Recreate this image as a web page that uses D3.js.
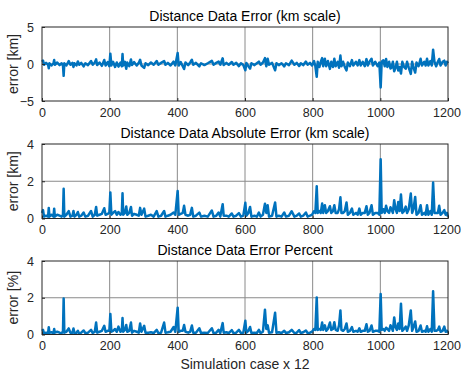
<!DOCTYPE html>
<html>
<head>
<meta charset="utf-8">
<script src="https://cdn.jsdelivr.net/npm/d3@7"></script>
<style>
    body { margin: 0; background: #fff; }
    svg text { font-family: "Liberation Sans", Arial, Helvetica, sans-serif; fill: #262626; }
</style>
</head>
<body>
<div id="chart-area"></div>
<script>
// Simulation case index (x) shared by the three panels
const caseIdx = [0, 3, 6, 12, 18, 20, 22, 28, 34, 36, 38, 45, 52, 58, 62, 64, 66, 72, 79, 84, 90, 93, 96, 102, 106, 110, 116, 123, 128, 136, 145, 150, 156, 160, 163, 170, 177, 184, 188, 194, 199, 202, 205, 210, 216, 221, 226, 232, 236, 238, 240, 245, 249, 252, 258, 263, 266, 272, 280, 286, 290, 294, 302, 306, 314, 322, 330, 339, 344, 352, 361, 365, 372, 380, 389, 394, 401, 404, 410, 416, 420, 424, 432, 438, 443, 447, 455, 465, 470, 480, 490, 502, 507, 515, 522, 527, 534, 537, 545, 552, 561, 566, 574, 582, 588, 595, 601, 604, 610, 615, 619, 628, 635, 641, 646, 653, 659, 663, 667, 671, 680, 689, 693, 700, 708, 716, 721, 730, 738, 746, 753, 760, 765, 772, 780, 785, 792, 798, 804, 808, 812, 815, 820, 824, 828, 831, 836, 840, 845, 851, 855, 860, 864, 868, 874, 878, 882, 885, 890, 895, 900, 904, 910, 916, 920, 928, 933, 938, 942, 948, 954, 959, 963, 968, 974, 978, 985, 992, 997, 1001, 1004, 1009, 1013, 1017, 1021, 1026, 1030, 1033, 1037, 1041, 1045, 1049, 1053, 1057, 1061, 1065, 1070, 1075, 1079, 1084, 1090, 1094, 1098, 1103, 1107, 1113, 1119, 1123, 1130, 1134, 1138, 1142, 1148, 1152, 1156, 1160, 1165, 1170, 1174, 1178, 1184, 1189, 1193, 1197, 1200];

// Distance data error [km]
const distError = [0.3, 0.45, -0.1, 0.15, -0.1, -0.57, 0.1, -0.2, 0.1, 0.53, -0.1, 0.2, -0.15, 0.1, -0.2, -1.6, 0.1, -0.2, 0.4, -0.1, 0.15, -0.4, 0.1, -0.2, 0.35, -0.1, 0.15, -0.32, 0.1, -0.15, 0.4, -0.1, 0.2, 0.62, -0.15, 0.2, -0.25, 0.55, -0.2, 0.25, -0.3, 1.4, -0.2, 0.3, -0.4, 0.2, -0.35, 0.2, -0.3, 1.35, -0.2, 0.3, -0.65, 0.2, -0.3, 0.62, -0.15, 0.25, -0.2, 0.15, 0.57, -0.2, -0.53, 0.1, -0.15, 0.2, -0.1, 0.4, -0.1, 0.15, 0.4, -0.1, 0.15, -0.2, 0.32, -0.2, 1.48, -0.2, 0.25, -0.3, -0.68, 0.2, -0.15, 0.2, 0.57, -0.1, 0.15, -0.32, 0.1, -0.15, 0.1, 0.43, -0.1, 0.15, 0.32, -0.1, 0.77, -0.15, 0.15, -0.1, 0.27, -0.1, 0.15, -0.29, 0.1, -0.15, -0.84, 0.15, -0.3, -0.62, 0.1, -0.15, 0.1, 0.32, -0.1, 0.2, 0.79, -0.3, 0.71, -0.1, 0.15, -0.86, 0.1, -0.15, 0.1, -0.32, 0.1, -0.15, 0.45, -0.1, 0.15, -0.27, 0.1, -0.15, 0.32, -0.1, 0.15, -0.2, 0.39, -0.3, -1.73, 0.3, -0.4, 0.3, 0.8, -0.3, 0.71, -0.3, 0.4, -0.66, 0.3, -0.4, 0.71, -0.3, 0.3, -0.5, 1.14, -0.3, 0.3, -0.4, -0.86, 0.2, -0.3, 0.53, -0.2, 0.3, -0.2, 0.53, -0.2, 0.3, -0.3, 0.66, -0.2, 0.3, 0.71, -0.2, 0.3, -0.3, 0.2, -3.18, 0.3, 0.5, -0.3, 0.68, -0.4, 0.3, -0.6, -0.5, 0.3, -0.98, -0.5, 0.3, -0.89, -0.4, -1.29, 0.3, -0.4, -0.64, 0.3, -0.5, -1.34, 0.3, -0.5, -1.16, 0.2, -0.3, 0.71, -0.2, 0.3, -0.2, 0.71, -0.2, 0.4, -0.2, 1.93, 0.3, -0.3, 0.3, 0.68, -0.2, 0.3, 0.45, -0.2, 0.3, 0.1];

// Distance data absolute error [km]
const absError = [0.3, 0.45, 0.1, 0.15, 0.1, 0.57, 0.1, 0.2, 0.1, 0.53, 0.1, 0.2, 0.15, 0.1, 0.2, 1.6, 0.1, 0.2, 0.4, 0.1, 0.15, 0.4, 0.1, 0.2, 0.35, 0.1, 0.15, 0.32, 0.1, 0.15, 0.4, 0.1, 0.2, 0.62, 0.15, 0.2, 0.25, 0.55, 0.2, 0.25, 0.3, 1.4, 0.2, 0.3, 0.4, 0.2, 0.35, 0.2, 0.3, 1.35, 0.2, 0.3, 0.65, 0.2, 0.3, 0.62, 0.15, 0.25, 0.2, 0.15, 0.57, 0.2, 0.53, 0.1, 0.15, 0.2, 0.1, 0.4, 0.1, 0.15, 0.4, 0.1, 0.15, 0.2, 0.32, 0.2, 1.48, 0.2, 0.25, 0.3, 0.68, 0.2, 0.15, 0.2, 0.57, 0.1, 0.15, 0.32, 0.1, 0.15, 0.1, 0.43, 0.1, 0.15, 0.32, 0.1, 0.77, 0.15, 0.15, 0.1, 0.27, 0.1, 0.15, 0.29, 0.1, 0.15, 0.84, 0.15, 0.3, 0.62, 0.1, 0.15, 0.1, 0.32, 0.1, 0.2, 0.79, 0.3, 0.71, 0.1, 0.15, 0.86, 0.1, 0.15, 0.1, 0.32, 0.1, 0.15, 0.39, 0.1, 0.15, 0.27, 0.1, 0.15, 0.32, 0.1, 0.15, 0.2, 0.39, 0.3, 1.73, 0.3, 0.4, 0.3, 0.8, 0.3, 0.71, 0.3, 0.4, 0.66, 0.3, 0.4, 0.71, 0.3, 0.3, 0.5, 1.14, 0.3, 0.3, 0.4, 0.86, 0.2, 0.3, 0.53, 0.2, 0.3, 0.2, 0.53, 0.2, 0.3, 0.3, 0.66, 0.2, 0.3, 0.71, 0.2, 0.3, 0.3, 0.2, 3.18, 0.3, 0.5, 0.3, 0.68, 0.4, 0.3, 0.6, 0.5, 0.3, 0.98, 0.5, 0.3, 0.89, 0.4, 1.29, 0.3, 0.4, 0.64, 0.3, 0.5, 1.34, 0.3, 0.5, 1.16, 0.2, 0.3, 0.71, 0.2, 0.3, 0.2, 0.71, 0.2, 0.4, 0.2, 1.93, 0.3, 0.3, 0.3, 0.68, 0.2, 0.3, 0.45, 0.2, 0.3, 0.1];

// Distance data error percent [%]
const pctError = [0.2, 0.25, 0.05, 0.1, 0.08, 0.4, 0.1, 0.12, 0.08, 0.3, 0.1, 0.15, 0.1, 0.08, 0.15, 1.96, 0.1, 0.15, 0.33, 0.1, 0.1, 0.33, 0.08, 0.1, 0.2, 0.05, 0.1, 0.22, 0.08, 0.1, 0.25, 0.08, 0.15, 0.65, 0.1, 0.15, 0.2, 0.47, 0.15, 0.2, 0.2, 1.12, 0.15, 0.2, 0.3, 0.15, 0.43, 0.15, 0.2, 0.9, 0.15, 0.25, 0.52, 0.15, 0.2, 0.65, 0.1, 0.2, 0.15, 0.1, 0.6, 0.15, 0.47, 0.1, 0.1, 0.12, 0.08, 0.25, 0.08, 0.1, 0.65, 0.1, 0.12, 0.15, 0.41, 0.15, 1.46, 0.15, 0.2, 0.2, 0.52, 0.15, 0.1, 0.15, 0.49, 0.1, 0.1, 0.34, 0.08, 0.1, 0.08, 0.34, 0.08, 0.1, 0.25, 0.08, 0.62, 0.1, 0.12, 0.08, 0.24, 0.08, 0.1, 0.25, 0.08, 0.1, 0.75, 0.1, 0.2, 0.41, 0.08, 0.1, 0.08, 0.25, 0.08, 0.15, 1.35, 0.3, 0.5, 0.1, 0.12, 1.18, 0.1, 0.12, 0.08, 0.2, 0.08, 0.12, 0.25, 0.08, 0.1, 0.24, 0.08, 0.12, 0.22, 0.08, 0.1, 0.15, 0.3, 0.25, 2.02, 0.25, 0.3, 0.25, 0.65, 0.25, 0.5, 0.2, 0.3, 0.65, 0.25, 0.3, 0.67, 0.25, 0.2, 0.5, 1.31, 0.25, 0.2, 0.3, 0.6, 0.15, 0.2, 0.4, 0.15, 0.2, 0.15, 0.34, 0.15, 0.2, 0.2, 0.56, 0.15, 0.2, 0.49, 0.15, 0.2, 0.2, 0.15, 2.2, 0.25, 0.3, 0.2, 0.37, 0.3, 0.2, 0.5, 0.4, 0.2, 0.93, 0.4, 0.25, 0.6, 0.3, 1.68, 0.2, 0.3, 0.43, 0.2, 0.5, 1.31, 0.2, 0.4, 0.71, 0.15, 0.2, 0.49, 0.15, 0.2, 0.15, 0.45, 0.15, 0.3, 0.15, 2.35, 0.2, 0.2, 0.25, 0.43, 0.15, 0.2, 0.43, 0.15, 0.2, 0.1];

// Tick labels
const xTicks = [0, 200, 400, 600, 800, 1000, 1200];
const errTicks = [-5, 0, 5];
const absTicks = [0, 2, 4];
const pctTicks = [0, 2, 4];

const titles = ["Distance Data Error (km scale)", "Distance Data Absolute Error (km scale)", "Distance Data Error Percent"];
const yLabels = ["error [km]", "error [km]", "error [%]"];
const xLabel = "Simulation case x 12";

const width = 461, height = 375;
const left = 42, right = 448;

const svg = d3.select("#chart-area").append("svg")
    .attr("width", width)
    .attr("height", height);

const panels = [
    {top: 27, bottom: 101, values: distError, domain: [-5, 5], ticks: errTicks},
    {top: 144, bottom: 218.5, values: absError, domain: [0, 4], ticks: absTicks},
    {top: 261, bottom: 334.5, values: pctError, domain: [0, 4], ticks: pctTicks}
];

const xScale = d3.scaleLinear().domain([0, 1200]).range([left, right]);
const fmt = d3.format("d");

panels.forEach((p, i) => {
    const yScale = d3.scaleLinear().domain(p.domain).range([p.bottom, p.top]);
    const g = svg.append("g");

    // grid
    g.selectAll(".vgrid")
        .data(xTicks.slice(1, -1))
        .enter().append("line")
        .attr("x1", d => xScale(d)).attr("x2", d => xScale(d))
        .attr("y1", p.top).attr("y2", p.bottom)
        .style("stroke", "#8a8a8a")
        .style("stroke-width", 1);

    g.selectAll(".hgrid")
        .data(p.ticks.slice(1, -1))
        .enter().append("line")
        .attr("x1", left).attr("x2", right)
        .attr("y1", d => yScale(d)).attr("y2", d => yScale(d))
        .style("stroke", "#8a8a8a")
        .style("stroke-width", 1);

    // data line
    const line = d3.line()
        .x((d, j) => xScale(caseIdx[j]))
        .y(d => yScale(d));

    g.append("path")
        .datum(p.values)
        .attr("d", line)
        .style("fill", "none")
        .style("stroke", "#0072BD")
        .style("stroke-width", 2.5)
        .style("stroke-linejoin", "round");

    // axes (ticks inside, labels outside)
    const xAxis = g.append("g")
        .attr("transform", "translate(0," + p.bottom + ")")
        .call(d3.axisBottom(xScale).tickValues(xTicks).tickFormat(fmt).tickSize(-3).tickPadding(7));
    const yAxis = g.append("g")
        .attr("transform", "translate(" + left + ",0)")
        .call(d3.axisLeft(yScale).tickValues(p.ticks).tickFormat(fmt).tickSize(-3).tickPadding(8));

    [xAxis, yAxis].forEach(a => {
        a.select(".domain").remove();
        a.selectAll("line").style("stroke", "#262626");
        a.selectAll("text")
            .style("font-size", "12.5px")
            .style("fill", "#262626")
            .attr("font-family", null);
    });
    // last x label sits right at the window edge
    xAxis.selectAll("text").filter(d => d === 1200).attr("dx", -1.5);

    // box
    g.append("rect")
        .attr("x", left).attr("y", p.top)
        .attr("width", right - left).attr("height", p.bottom - p.top)
        .style("fill", "none")
        .style("stroke", "#262626")
        .style("stroke-width", 1);

    // title
    svg.append("text")
        .attr("x", (left + right) / 2)
        .attr("y", p.top - 6)
        .attr("text-anchor", "middle")
        .style("font-size", "14px")
        .style("fill", "#000")
        .text(titles[i]);

    // y label
    svg.append("text")
        .attr("transform", "translate(18," + ((p.top + p.bottom) / 2) + ") rotate(-90)")
        .attr("text-anchor", "middle")
        .style("font-size", "14px")
        .text(yLabels[i]);
});

svg.append("text")
    .attr("x", (left + right) / 2)
    .attr("y", 369)
    .attr("text-anchor", "middle")
    .style("font-size", "14px")
    .text(xLabel);
</script>
</body>
</html>
